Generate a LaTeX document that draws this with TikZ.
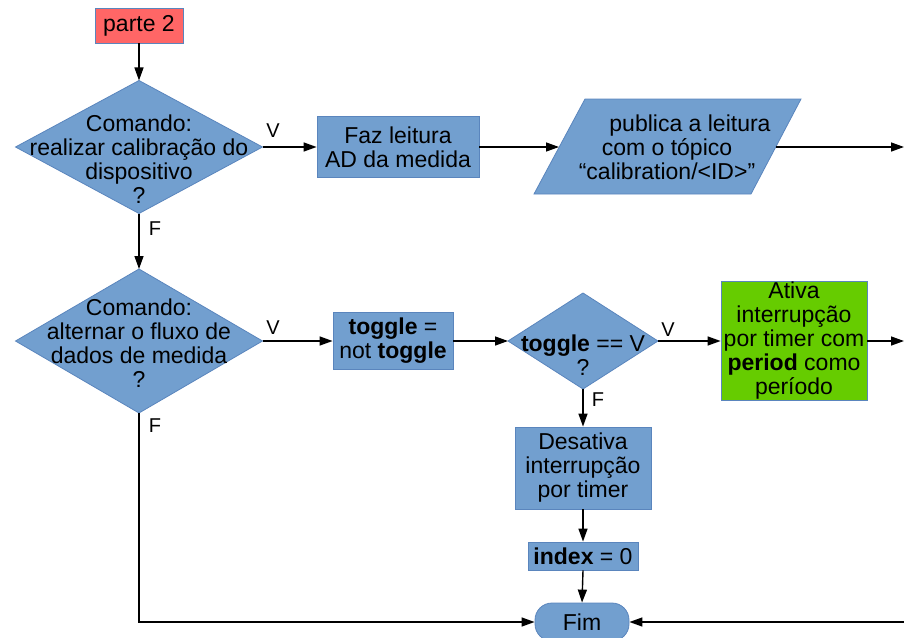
\documentclass[tikz,border=0pt]{standalone}
\usepackage{fontspec}
\setmainfont{Liberation Sans}
\usetikzlibrary{arrows.meta,shapes.geometric}
\definecolor{boxblue}{HTML}{729FCF}
\definecolor{boxline}{HTML}{5A85BD}
\definecolor{startred}{HTML}{FF6666}
\definecolor{actgreen}{HTML}{66CC00}

\begin{document}
\begin{tikzpicture}[x=1pt,y=-1pt,
  txt/.style={font=\fontsize{23}{24}\selectfont, align=center, inner sep=0pt},
  proc/.style={rectangle, draw=boxline, line width=0.8pt, fill=boxblue, txt, inner sep=1pt},
  decision/.style={diamond, draw=boxline, line width=0.8pt, fill=boxblue, inner sep=0pt, outer sep=0pt},
  flow/.style={line width=1.4pt, -{Triangle[length=13pt,width=9pt]}},
  branch/.style={font=\fontsize{20}{20}\selectfont, inner sep=0pt}
]
\useasboundingbox (0,0) rectangle (904,637);

% start marker
\node[proc, fill=startred, minimum width=88pt, minimum height=35pt] (start) at (139,25.5) {parte 2};

% first decision: calibration command
\node[decision, minimum width=247pt, minimum height=133pt] (d1) at (139,147) {};
\node[txt] (d1t) at (139,159) {Comando:\\realizar calibração do\\dispositivo\\?};

\node[proc, minimum width=162pt, minimum height=61pt] (read) at (398,147) {Faz leitura\\AD da medida};

% publish step (parallelogram)
\draw[draw=boxline, line width=0.8pt, fill=boxblue] (534,194) -- (585,99) -- (801,99) -- (751,194) -- cycle;
\node[txt] (pub) at (667,147) {\hspace*{46pt}publica a leitura\\com o tópico\\“calibration/<ID>”};
\coordinate (pubin) at (559,147);
\coordinate (pubout) at (776,147);
\coordinate (rowAend) at (904,147);

% second decision: toggle data stream
\node[decision, minimum width=247pt, minimum height=144pt] (d2) at (139,341) {};
\node[txt] (d2t) at (139,343) {Comando:\\alternar o fluxo de\\dados de medida\\?};

\node[proc, minimum width=120pt, minimum height=57pt] (tog) at (393,341) {\textbf{toggle} =\\not \textbf{toggle}};

\node[decision, minimum width=150pt, minimum height=96pt] (d3) at (583,341) {};
\node[txt] (d3t) at (583,355) {\textbf{toggle} == V\\?};

\node[proc, fill=actgreen, minimum width=146pt, minimum height=118pt] (act) at (794,341) {Ativa\\interrupção\\por timer com\\\textbf{period} como\\período};
\coordinate (rowBend) at (904,341);

\node[proc, minimum width=136pt, minimum height=82pt] (off) at (583,468) {Desativa\\interrupção\\por timer};
\node[proc, minimum width=110pt, minimum height=28pt] (idx) at (583,556) {\textbf{index} = 0};
\node[proc, rounded corners=17pt, minimum width=94pt, minimum height=38pt] (fim) at (582,622) {Fim};
\coordinate (rowCend) at (904,622);

% connectors
\draw[flow] (start) -- (d1);
\draw[flow] (d1.east) -- (read.west);
\draw[flow] (read.east) -- (pubin);
\draw[flow] (pubout) -- (rowAend);
\draw[flow] (d1.south) -- (d2.north);
\draw[flow] (d2.east) -- (tog.west);
\draw[flow] (tog.east) -- (d3.west);
\draw[flow] (d3.east) -- (act.west);
\draw[flow] (act.east) -- (rowBend);
\draw[flow] (d3.south) -- (off.north);
\draw[flow] (off.south) -- (idx.north);
\draw[flow] (idx.south) -- (fim.north);
\draw[flow] (d2.south) |- (fim.west);
\draw[flow] (rowCend) -- (fim.east);

% branch labels
\node[branch] (v1) at (273,131) {V};
\node[branch] (f1) at (155,229) {F};
\node[branch] (v2) at (273,328) {V};
\node[branch] (f2) at (155,426) {F};
\node[branch] (v3) at (668,330) {V};
\node[branch] (f3) at (598,400) {F};
\end{tikzpicture}
\end{document}
